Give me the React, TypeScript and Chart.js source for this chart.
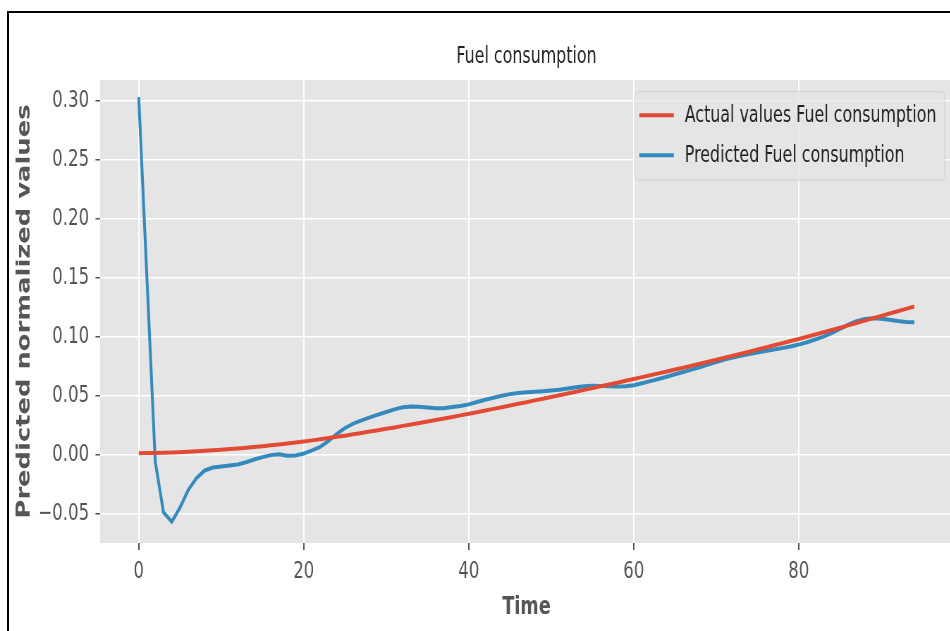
import React, { useEffect, useRef } from "react";
import { Chart, registerables } from "chart.js";

Chart.register(...registerables);

// ---- data ----
const TITLE = "Fuel consumption";
const X_LABEL = "Time";
const Y_LABEL = "Predicted normalized values";
const SERIES_LABELS = ["Actual values Fuel consumption", "Predicted Fuel consumption"];
const X_TICKS = [0, 20, 40, 60, 80];
const Y_TICKS = [-0.05, 0, 0.05, 0.1, 0.15, 0.2, 0.25, 0.3];

const TIME = [
  0, 1, 2, 3, 4, 5, 6, 7, 8, 9, 10, 11, 12, 13, 14, 15, 16, 17, 18, 19,
  20, 21, 22, 23, 24, 25, 26, 27, 28, 29, 30, 31, 32, 33, 34, 35, 36, 37, 38, 39,
  40, 41, 42, 43, 44, 45, 46, 47, 48, 49, 50, 51, 52, 53, 54, 55, 56, 57, 58, 59,
  60, 61, 62, 63, 64, 65, 66, 67, 68, 69, 70, 71, 72, 73, 74, 75, 76, 77, 78, 79,
  80, 81, 82, 83, 84, 85, 86, 87, 88, 89, 90, 91, 92, 93, 94,
];

const ACTUAL = [
  0.001, 0.0012, 0.0014, 0.0016, 0.0018, 0.002, 0.0024, 0.0028, 0.0032, 0.0036,
  0.004, 0.0046, 0.0052, 0.0058, 0.0064, 0.007, 0.0078, 0.0086, 0.0094, 0.0102,
  0.011, 0.012, 0.013, 0.014, 0.015, 0.016, 0.0172, 0.0183, 0.0195, 0.0206,
  0.0218, 0.023, 0.0243, 0.0255, 0.0268, 0.028, 0.0293, 0.0306, 0.0319, 0.0332,
  0.0345, 0.0359, 0.0373, 0.0387, 0.0401, 0.0415, 0.043, 0.0444, 0.0459, 0.0473,
  0.0488, 0.0503, 0.0518, 0.0533, 0.0548, 0.0563, 0.0578, 0.0594, 0.0609, 0.0625,
  0.064, 0.0656, 0.0672, 0.0688, 0.0704, 0.072, 0.0736, 0.0753, 0.0769, 0.0786,
  0.0803, 0.082, 0.0837, 0.0855, 0.0872, 0.089, 0.0908, 0.0926, 0.0944, 0.0962,
  0.098, 0.0999, 0.1018, 0.1037, 0.1056, 0.1075, 0.1095, 0.1115, 0.1135, 0.1155,
  0.1175, 0.1195, 0.1215, 0.1235, 0.1255,
];

const PREDICTED = [
  0.303, 0.148, -0.006, -0.049, -0.057, -0.045, -0.03, -0.02, -0.0135, -0.011,
  -0.0102, -0.0093, -0.0085, -0.0065, -0.0042, -0.0022, -0.0005, 0.0003, -0.001, -0.0008,
  0.0008, 0.0035, 0.0065, 0.0115, 0.0175, 0.0225, 0.0262, 0.029, 0.0315, 0.0338,
  0.036, 0.0383, 0.04, 0.0407, 0.0405, 0.0398, 0.0392, 0.0393, 0.0402, 0.0412,
  0.0425, 0.0445, 0.0465, 0.0482, 0.0498, 0.0512, 0.0522, 0.0528, 0.0532, 0.0536,
  0.0542, 0.055, 0.056, 0.057, 0.0578, 0.0583, 0.0582, 0.0578, 0.0576, 0.0578,
  0.0588, 0.0604, 0.0622, 0.064, 0.066, 0.068, 0.07, 0.072, 0.074, 0.0762,
  0.0785, 0.0805, 0.0822, 0.0838, 0.0852, 0.0865, 0.0878, 0.089, 0.0902, 0.0915,
  0.0932, 0.0952, 0.0975, 0.1, 0.103, 0.1065, 0.11, 0.113, 0.1148, 0.1155,
  0.1152, 0.1143, 0.1132, 0.1124, 0.1122,
];

// ---- layout / style ----
const SX = 0.705; // horizontal squeeze of the whole figure
const CW = 1400;
const CH = 631;
const FAMILY = "'DejaVu Sans', 'Liberation Sans', sans-serif";
const RED = "#E24A33";
const BLUE = "#348ABD";

const panelBg = {
  id: "panelBg",
  beforeDraw(chart: any) {
    const { ctx, chartArea: a } = chart;
    ctx.save();
    ctx.fillStyle = "#E5E5E5";
    ctx.fillRect(a.left, a.top, a.right - a.left, a.bottom - a.top);
    ctx.restore();
  },
};

function roundRectPath(ctx: CanvasRenderingContext2D, x: number, y: number, w: number, h: number, r: number) {
  ctx.beginPath();
  ctx.moveTo(x + r, y);
  ctx.lineTo(x + w - r, y);
  ctx.arcTo(x + w, y, x + w, y + r, r);
  ctx.lineTo(x + w, y + h - r);
  ctx.arcTo(x + w, y + h, x + w - r, y + h, r);
  ctx.lineTo(x + r, y + h);
  ctx.arcTo(x, y + h, x, y + h - r, r);
  ctx.lineTo(x, y + r);
  ctx.arcTo(x, y, x + r, y, r);
  ctx.closePath();
}

const insideLegend = {
  id: "insideLegend",
  afterDraw(chart: any) {
    const { ctx, chartArea: a } = chart;
    ctx.save();
    ctx.font = `22.5px ${FAMILY}`;
    const items = chart.data.datasets.map((d: any) => ({ label: d.label, color: d.borderColor }));
    const textW = Math.max(...items.map((i: any) => ctx.measureText(i.label).width));
    const padL = 6.2, handle = 49, gap = 15.6, padR = 11.8;
    const w = padL + handle + gap + textW + padR;
    const right = a.right - 11.8;
    const left = right - w;
    const top = a.top + 11.7;
    const h = 88.3;
    roundRectPath(ctx, left, top, w, h, 5);
    ctx.fillStyle = "rgba(229,229,229,0.8)";
    ctx.fill();
    ctx.strokeStyle = "#cfcfcf";
    ctx.lineWidth = 1;
    ctx.stroke();
    items.forEach((it: any, i: number) => {
      const cy = top + 23.5 + i * 40;
      ctx.beginPath();
      ctx.moveTo(left + padL, cy);
      ctx.lineTo(left + padL + handle, cy);
      ctx.strokeStyle = it.color;
      ctx.lineWidth = 4;
      ctx.stroke();
      ctx.fillStyle = "#222222";
      ctx.textBaseline = "middle";
      ctx.textAlign = "left";
      ctx.fillText(it.label, left + padL + handle + gap, cy + 1);
    });
    ctx.restore();
  },
};

export default function App() {
  const ref = useRef<HTMLCanvasElement>(null);

  useEffect(() => {
    const chart = new Chart(ref.current as HTMLCanvasElement, {
      type: "line",
      data: {
        datasets: [
          {
            label: SERIES_LABELS[0],
            data: TIME.map((t, i) => ({ x: t, y: ACTUAL[i] })),
            borderColor: RED,
            backgroundColor: RED,
            borderWidth: 4,
            pointRadius: 0,
            tension: 0,
            fill: false,
          },
          {
            label: SERIES_LABELS[1],
            data: TIME.map((t, i) => ({ x: t, y: PREDICTED[i] })),
            borderColor: BLUE,
            backgroundColor: BLUE,
            borderWidth: 4,
            pointRadius: 0,
            tension: 0,
            fill: false,
          },
        ],
      },
      options: {
        responsive: false,
        animation: false,
        devicePixelRatio: 1,
        layout: { padding: { left: 0, right: 48.2, top: 0, bottom: 0 } },
        plugins: {
          legend: { display: false },
          tooltip: { enabled: false },
          title: {
            display: true,
            text: TITLE,
            fullSize: false,
            color: "#222222",
            font: { family: FAMILY, size: 22.5, weight: "normal" },
            padding: { top: 43.5, bottom: 9.5 },
          },
        },
        scales: {
          x: {
            type: "linear",
            min: -4.7,
            max: 98.7,
            afterBuildTicks: (s: any) => {
              s.ticks = X_TICKS.map((v) => ({ value: v }));
            },
            afterFit: (s: any) => {
              s.height = 88;
            },
            grid: { color: "#ffffff", lineWidth: 2, tickColor: "#555555", tickLength: 7, tickWidth: 2 },
            border: { display: false },
            ticks: {
              color: "#555555",
              font: { family: FAMILY, size: 23.5 },
              padding: 8,
              maxRotation: 0,
              autoSkip: false,
            },
            title: {
              display: true,
              text: X_LABEL,
              color: "#555555",
              font: { family: FAMILY, size: 25, weight: "bold" },
              padding: { top: 0, bottom: 9 },
            },
          },
          y: {
            type: "linear",
            min: -0.075,
            max: 0.3175,
            afterBuildTicks: (s: any) => {
              s.ticks = Y_TICKS.map((v) => ({ value: v }));
            },
            afterFit: (s: any) => {
              s.width = 141.8;
            },
            grid: { color: "#ffffff", lineWidth: 1.5, tickColor: "#555555", tickLength: 6.4, tickWidth: 1.5 },
            border: { display: false },
            ticks: {
              color: "#555555",
              font: { family: FAMILY, size: 23.5 },
              padding: 9,
              callback: (v: any) => Number(v).toFixed(2).replace("-", "\u2212"),
            },
            title: {
              display: true,
              text: Y_LABEL,
              color: "#555555",
              font: { family: FAMILY, size: 25.8, weight: "bold" },
              padding: { top: 20, bottom: 0 },
            },
          },
        },
      },
      plugins: [panelBg, insideLegend],
    } as any);
    return () => chart.destroy();
  }, []);

  return (
    <div
      style={{
        position: "absolute",
        left: 0,
        top: 0,
        width: 950,
        height: 631,
        overflow: "hidden",
        background: "#ffffff",
      }}
    >
      <div
        style={{
          position: "absolute",
          left: 0,
          top: 0,
          width: CW,
          height: CH,
          transform: `scaleX(${SX})`,
          transformOrigin: "0 0",
        }}
      >
        <canvas ref={ref} width={CW} height={CH} style={{ display: "block" }} />
      </div>
      <div
        style={{
          position: "absolute",
          left: 7,
          top: 11,
          width: 1200,
          height: 1200,
          border: "2px solid #000000",
          pointerEvents: "none",
        }}
      />
    </div>
  );
}
